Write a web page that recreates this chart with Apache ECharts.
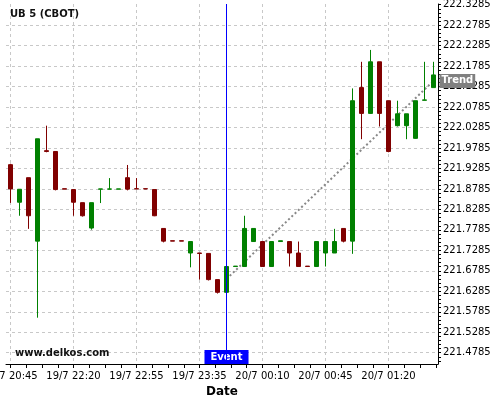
<!DOCTYPE html>
<html>
<head>
<meta charset="utf-8">
<script src="https://cdn.jsdelivr.net/npm/echarts@6/dist/echarts.min.js"></script>
<style>html,body{margin:0;padding:0;background:#fff}#c{width:500px;height:400px}</style>
</head>
<body>
<div id="c"></div>
<script>
var categories = [
 '19/7 20:45','19/7 20:50','19/7 20:55','19/7 21:00','19/7 21:05','19/7 21:10','19/7 21:15',
 '19/7 22:20','19/7 22:25','19/7 22:30','19/7 22:35','19/7 22:40','19/7 22:45','19/7 22:50',
 '19/7 22:55','19/7 23:00','19/7 23:05','19/7 23:10','19/7 23:20','19/7 23:25','19/7 23:30',
 '19/7 23:35','19/7 23:40','19/7 23:45','19/7 23:50','19/7 23:55','20/7 00:00','20/7 00:05',
 '20/7 00:10','20/7 00:15','20/7 00:20','20/7 00:25','20/7 00:30','20/7 00:35','20/7 00:40',
 '20/7 00:45','20/7 00:50','20/7 00:55','20/7 01:00','20/7 01:05','20/7 01:10','20/7 01:15',
 '20/7 01:20','20/7 01:25','20/7 01:30','20/7 01:35','20/7 01:40','20/7 01:45'
];
var opens  = [221.9378,221.846,221.906,221.751,221.972,221.970,221.879,221.877,221.845,221.783,221.878,221.878,221.878,221.906,221.879,221.879,221.877,221.782,221.752,221.752,221.722,221.722,221.721,221.657,221.626,221.689,221.689,221.750,221.750,221.689,221.750,221.750,221.722,221.690,221.689,221.722,221.722,221.782,221.751,222.126,222.063,222.189,222.094,222.033,222.033,222.002,222.095,222.126];
var closes = [221.8785,221.8777,221.813,222.001,221.970,221.877,221.878,221.846,221.813,221.845,221.8785,221.8785,221.8785,221.878,221.8785,221.8785,221.813,221.751,221.751,221.751,221.750,221.721,221.657,221.626,221.689,221.690,221.782,221.782,221.689,221.750,221.752,221.722,221.689,221.689,221.750,221.750,221.750,221.751,222.094,222.063,222.189,222.063,221.970,222.062,222.062,222.094,222.096,222.157];
var lows   = [221.8444,221.813,221.781,221.564,221.968,221.875,221.878,221.813,221.811,221.779,221.844,221.878,221.878,221.875,221.878,221.878,221.812,221.748,221.751,221.751,221.687,221.657,221.655,221.623,221.626,221.689,221.688,221.749,221.689,221.688,221.750,221.689,221.689,221.689,221.688,221.689,221.722,221.748,221.720,222.000,222.062,222.031,221.968,222.031,222.000,222.001,222.095,222.126];
var highs  = [221.9400,221.878,221.906,222.001,222.033,221.970,221.879,221.877,221.845,221.845,221.8785,221.905,221.8785,221.937,221.905,221.879,221.877,221.782,221.752,221.752,221.750,221.722,221.721,221.657,221.689,221.690,221.813,221.782,221.750,221.750,221.752,221.750,221.750,221.690,221.750,221.750,221.781,221.782,222.124,222.189,222.218,222.189,222.094,222.094,222.062,222.094,222.189,222.189];
var yTickLabels = [221.4785,221.5285,221.5785,221.6285,221.6785,221.7285,221.7785,221.8285,221.8785,221.9285,221.9785,222.0285,222.0785,222.1285,222.1785,222.2285,222.2785,222.3285];
var yGridValues = [221.4785,221.5285,221.5785,221.6285,221.6785,221.7285,221.7785,221.8285,221.8785,221.9285,221.9785,222.0285,222.0785,222.1285,222.1785,222.2285,222.2785];
var xLabelIdx = [0,7,14,21,28,35,42];
var xTickIdx = [0,1.75,3.5,5.25,7,8.75,10.5,12.25,14,15.75,17.5,19.25,21,22.75,24.5,26.25,28,29.75,31.5,33.25,35,36.75,38.5,40.25,42,43.75,45.5,47.25];
var eventTime = '19/7 23:50';
var trendStart = ['19/7 23:50', 221.6585];
var trendEnd = ['20/7 01:45', 222.1424];

var yMin = 221.4509, yMax = 222.3302;
var yTickAll = [221.4585, 221.4685];
yTickLabels.forEach(function(v, i){
  yTickAll.push(v);
  if (i < yTickLabels.length - 1) {
    for (var k = 1; k < 5; k++) yTickAll.push(+(v + 0.01 * k).toFixed(4));
  }
});

var candleData = categories.map(function(c, i){ return [opens[i], closes[i], lows[i], highs[i]]; });
var FONT = 'DejaVu Sans';
var gridLine = {color: '#c8c8c8', type: [3, 3], width: 1};

var chart = echarts.init(document.getElementById('c'), null, {renderer: 'canvas'});
chart.setOption({
  animation: false,
  backgroundColor: '#fff',
  textStyle: {fontFamily: FONT},
  title: [
    {text: 'UB 5 (CBOT)', left: 10, top: 9, padding: 0,
     textStyle: {fontFamily: FONT, fontSize: 10, fontWeight: 'bold', color: '#111'}},
    {text: 'www.delkos.com', left: 15, top: 348, padding: 0,
     textStyle: {fontFamily: FONT, fontSize: 10, fontWeight: 'bold', color: '#111'}}
  ],
  grid: {left: 6, right: 62, top: 4, bottom: 36, containLabel: false, outerBoundsMode: 'none'},
  xAxis: [
    {
      type: 'category', data: categories, boundaryGap: true,
      axisLine: {show: true, onZero: false, lineStyle: {color: '#000', width: 1}},
      axisTick: {show: false},
      axisLabel: {interval: 6, fontFamily: FONT, fontSize: 10, color: '#000', margin: 7, hideOverlap: false},
      splitLine: {show: false},
      name: 'Date', nameLocation: 'middle', nameGap: 20,
      nameTextStyle: {fontFamily: FONT, fontSize: 12, fontWeight: 'bold', color: '#000'}
    },
    {
      type: 'value', min: -0.5, max: 47.5, position: 'bottom',
      axisLine: {show: false, onZero: false},
      axisLabel: {show: false},
      axisTick: {show: true, length: 4, customValues: xTickIdx, lineStyle: {color: '#000'}},
      splitLine: {show: false}
    },
    {
      type: 'value', min: -0.5, max: 47.5, position: 'bottom',
      axisLine: {show: false, onZero: false},
      axisLabel: {show: false},
      axisTick: {show: false, customValues: xLabelIdx},
      splitLine: {show: true, lineStyle: gridLine}
    }
  ],
  yAxis: [
    {
      type: 'value', position: 'right', min: yMin, max: yMax,
      axisLine: {show: true, onZero: false, lineStyle: {color: '#000', width: 1}},
      axisTick: {show: true, length: 3, customValues: yTickAll, lineStyle: {color: '#000'}},
      axisLabel: {customValues: yTickLabels, fontFamily: FONT, fontSize: 10, color: '#000', margin: 5,
        formatter: function(v){ return v.toFixed(4); }},
      splitLine: {show: false}
    },
    {
      type: 'value', position: 'right', min: yMin, max: yMax,
      axisLine: {show: false, onZero: false},
      axisTick: {show: false, customValues: yGridValues},
      axisLabel: {show: false},
      splitLine: {show: true, lineStyle: gridLine}
    }
  ],
  series: [
    {
      type: 'line', xAxisIndex: 0, yAxisIndex: 0, z: 1, symbol: 'none', silent: true,
      data: [trendStart, trendEnd],
      lineStyle: {color: '#888', width: 2, type: [2, 2.5]},
      endLabel: {show: true, formatter: 'Trend', distance: 6, color: '#fff', fontFamily: FONT,
        fontSize: 10, fontWeight: 'bold', backgroundColor: '#808080', padding: [1, 2], lineHeight: 12}
    },
    {
      type: 'candlestick', xAxisIndex: 0, yAxisIndex: 0, z: 2, barWidth: 5, data: candleData,
      itemStyle: {color: '#008000', color0: '#800000', borderColor: '#008000', borderColor0: '#800000', borderWidth: 1},
      markLine: {
        silent: true, symbol: ['none', 'none'], animation: false, z: 10,
        label: {show: false},
        lineStyle: {color: '#0000ff', width: 1, type: 'solid', opacity: 1},
        emphasis: {disabled: true},
        data: [{xAxis: eventTime}]
      },
      markPoint: {
        silent: true, symbol: 'rect', symbolSize: 0, animation: false,
        data: [{coord: [eventTime, yMin]}],
        label: {show: true, formatter: 'Event', position: 'top', distance: 0, color: '#fff',
          fontFamily: FONT, fontSize: 10, fontWeight: 'bold', backgroundColor: '#0000ff',
          padding: [1, 6], lineHeight: 12}
      }
    }
  ]
});
</script>
</body>
</html>
